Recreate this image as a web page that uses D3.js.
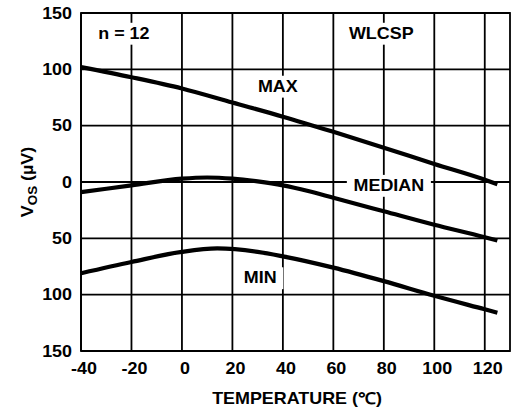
<!DOCTYPE html>
<html><head><meta charset="utf-8">
<script src="https://cdn.jsdelivr.net/npm/d3@7"></script>
<style>
html,body{margin:0;padding:0;background:#fff;}
text{font-family:"Liberation Sans",Arial,Helvetica,sans-serif;font-weight:bold;fill:#000;}
</style></head>
<body>
<svg id="chart" width="512" height="410"></svg>
<script>
// Data
const xTicks = [-40, -20, 0, 20, 40, 60, 80, 100, 120];
const yTicks = [150, 100, 50, 0, -50, -100, -150];
const yTickLabels = ["150", "100", "50", "0", "50", "100", "150"];

const maxTemp = [-40, -20, 0, 20, 40, 60, 80, 100, 120, 125];
const maxVos  = [102, 93, 83, 70.5, 58, 44.5, 30.5, 16, 2, -2];

const medTemp = [-40, -20, 0, 10, 20, 30, 40, 50, 60, 80, 100, 120, 125];
const medVos  = [-9, -3, 3, 4, 3, 0.5, -3, -8, -14, -26, -38, -49, -52];

const minTemp = [-40, -20, 0, 14, 30, 40, 60, 80, 100, 120, 125];
const minVos  = [-81, -71, -62, -59, -62, -66, -76, -88, -101, -113, -116];

const labels = [
  {text: "n = 12", t: -23, v: 127},
  {text: "WLCSP", t: 79, v: 127},
  {text: "MAX", t: 38, v: 80},
  {text: "MEDIAN", t: 82, v: -8},
  {text: "MIN", t: 31, v: -90}
];

const SX = 1.12; // horizontal stretch of the reference's wide bold face
const svg = d3.select("#chart");
const x = d3.scaleLinear().domain([-40, 130]).range([81, 510]);
const y = d3.scaleLinear().domain([-150, 150]).range([351, 13]);

const grid = svg.append("g").attr("stroke", "#000").attr("stroke-width", 1.8);
grid.selectAll(".vg").data(xTicks).join("line")
  .attr("x1", d => x(d)).attr("x2", d => x(d)).attr("y1", y(150)).attr("y2", y(-150));
grid.selectAll(".hg").data(yTicks).join("line")
  .attr("x1", x(-40)).attr("x2", x(130)).attr("y1", d => y(d)).attr("y2", d => y(d));
grid.append("rect").attr("x", x(-40)).attr("y", y(150))
  .attr("width", x(130) - x(-40)).attr("height", y(-150) - y(150)).attr("fill", "none");

// tick labels
svg.append("g").selectAll("text").data(yTicks).join("text")
  .attr("transform", d => `translate(72,${y(d)}) scale(${SX},1)`).attr("dy", "0.36em")
  .attr("text-anchor", "end").attr("font-size", 16)
  .text((d, i) => yTickLabels[i]);
svg.append("g").selectAll("text").data(xTicks).join("text")
  .attr("transform", d => `translate(${x(d) + 3},374) scale(${SX},1)`)
  .attr("text-anchor", "middle").attr("font-size", 16)
  .text(d => d);

// axis titles
svg.append("text").attr("transform", `translate(297,404) scale(${SX},1)`).attr("text-anchor", "middle")
  .attr("font-size", 16).text("TEMPERATURE (\u2103)");
const yt = svg.append("text").attr("transform", `translate(33,182) rotate(-90) scale(${SX},1)`)
  .attr("text-anchor", "middle").attr("font-size", 16);
yt.append("tspan").text("V");
yt.append("tspan").attr("font-size", 12).attr("dy", 4).text("OS");
yt.append("tspan").attr("dy", -4).text(" (\u00b5V)");

// annotation labels with white boxes
const lg = svg.append("g");
labels.forEach(l => {
  const g = lg.append("g").attr("transform", `translate(${x(l.t)},${y(l.v)}) scale(${SX},1)`);
  const t = g.append("text").attr("text-anchor", "middle").attr("font-size", 16).text(l.text);
  const b = t.node().getBBox();
  g.insert("rect", "text").attr("x", b.x - 6).attr("y", b.y - 2)
    .attr("width", b.width + 12).attr("height", b.height + 4).attr("fill", "#fff");
});

// curves
const line = d3.line().x(d => x(d[0])).y(d => y(d[1])).curve(d3.curveMonotoneX);
const series = [[maxTemp, maxVos], [medTemp, medVos], [minTemp, minVos]];
svg.append("g").selectAll("path").data(series).join("path")
  .attr("d", s => line(s[0].map((t, i) => [t, s[1][i]])))
  .attr("fill", "none").attr("stroke", "#000").attr("stroke-width", 4.2)
  .attr("stroke-linecap", "butt");
</script>
</body></html>
